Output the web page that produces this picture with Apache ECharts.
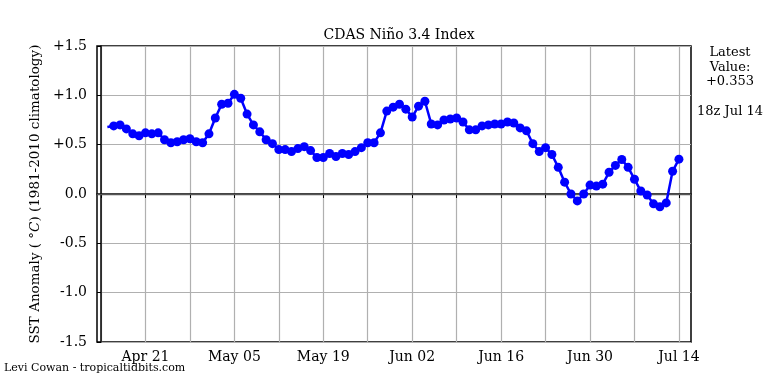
<!DOCTYPE html>
<html>
<head>
<meta charset="utf-8">
<script src="https://cdn.jsdelivr.net/npm/echarts@6/dist/echarts.min.js"></script>
<style>
html,body{margin:0;padding:0;background:#fff;}
#chart{width:768px;height:384px;}
</style>
</head>
<body>
<div id="chart"></div>
<script>
// Day offsets are counted from Apr 14 (day 0)
const firstDay = 1; // Apr 15
const values = [
  0.68,
  0.69, 0.70, 0.66, 0.61, 0.59, 0.62, 0.61, 0.62, 0.55, 0.52,
  0.53, 0.55, 0.56, 0.53, 0.52, 0.61, 0.77, 0.91, 0.92, 1.01,
  0.97, 0.81, 0.70, 0.63, 0.55, 0.51, 0.45, 0.45, 0.43, 0.46,
  0.48, 0.44, 0.37, 0.37, 0.41, 0.38, 0.41, 0.40, 0.43, 0.47,
  0.52, 0.52, 0.62, 0.84, 0.88, 0.91, 0.86, 0.78, 0.89, 0.94,
  0.71, 0.70, 0.75, 0.76, 0.77, 0.73, 0.65, 0.65, 0.69, 0.70,
  0.71, 0.71, 0.73, 0.72, 0.67, 0.64, 0.51, 0.43, 0.47, 0.40,
  0.27, 0.12, 0.00, -0.07, 0.00, 0.09, 0.08, 0.10, 0.22, 0.29,
  0.35, 0.27, 0.15, 0.03, -0.01, -0.10, -0.13, -0.09, 0.23, 0.353
];
const tickDays = [0, 7, 14, 21, 28, 35, 42, 49, 56, 63, 70, 77, 84, 91];
const labelDays = [7, 21, 35, 49, 63, 77, 91];
const tickLabels = ['Apr 21', 'May 05', 'May 19', 'Jun 02', 'Jun 16', 'Jun 30', 'Jul 14'];

const seriesData = values.map((v, i) => {
  const item = { value: [firstDay + i, v] };
  if (i === 0) item.symbol = 'none';
  return item;
});

const serif = 'DejaVu Serif';
const chart = echarts.init(document.getElementById('chart'));
chart.setOption({
  animation: false,
  title: {
    text: 'CDAS Niño 3.4 Index',
    left: 394, top: 23, textAlign: 'center',
    textStyle: { fontFamily: serif, fontSize: 14, fontWeight: 'normal', color: '#000' }
  },
  grid: {
    left: 97, right: 77, top: 46, bottom: 42,
    show: true, borderColor: '#000', borderWidth: 1.5, backgroundColor: '#fff'
  },
  xAxis: {
    type: 'value',
    min: -0.63, max: 92.9,
    axisLine: { show: true, lineStyle: { color: '#000', width: 1.5 } },
    axisTick: { show: true, customValues: tickDays, length: 4, lineStyle: { color: '#000', width: 1 } },
    axisLabel: {
      customValues: labelDays,
      formatter: v => tickLabels[labelDays.indexOf(Math.round(v))] || '',
      fontFamily: serif, fontSize: 14, color: '#000', margin: 8
    },
    splitLine: { show: true, lineStyle: { color: '#b0b0b0', width: 1.2 } }
  },
  yAxis: {
    type: 'value',
    min: -1.5, max: 1.5, interval: 0.5,
    name: 'SST Anomaly ( {i|°}{i|C}) (1981-2010 climatology)',
    nameLocation: 'middle', nameGap: 54, nameRotate: 90,
    nameTextStyle: {
      fontFamily: serif, fontSize: 13.5, color: '#000',
      rich: { i: { fontFamily: serif, fontSize: 13.5, fontStyle: 'italic', color: '#000' } }
    },
    axisLine: { show: true, lineStyle: { color: '#000', width: 1.5 } },
    axisTick: { show: true, length: 4, lineStyle: { color: '#000', width: 1 } },
    axisLabel: {
      formatter: v => (v > 0 ? '+' : '') + v.toFixed(1),
      fontFamily: serif, fontSize: 14, color: '#000', margin: 10
    },
    splitLine: { show: true, lineStyle: { color: '#b0b0b0', width: 1.2 } }
  },
  series: [{
    type: 'line',
    data: seriesData,
    symbol: 'circle', symbolSize: 9,
    lineStyle: { color: '#0000ff', width: 2.5 },
    itemStyle: { color: '#0000ff' },
    z: 5,
    markLine: {
      silent: true, symbol: 'none', label: { show: false },
      lineStyle: { color: '#555', width: 1.3, type: 'solid' },
      data: [{ yAxis: 0 }],
      z: 3
    }
  }],
  graphic: [
    {
      type: 'text', x: 730, y: 45,
      style: {
        text: 'Latest\nValue:\n+0.353\n\n18z Jul 14',
        align: 'center', verticalAlign: 'top',
        font: '13px "DejaVu Serif"', lineHeight: 14.8, fill: '#000'
      }
    },
    {
      type: 'text', x: 4, y: 363,
      style: { text: 'Levi Cowan - tropicaltidbits.com', font: '11px "DejaVu Serif"', fill: '#000' }
    }
  ]
});
</script>
</body>
</html>
